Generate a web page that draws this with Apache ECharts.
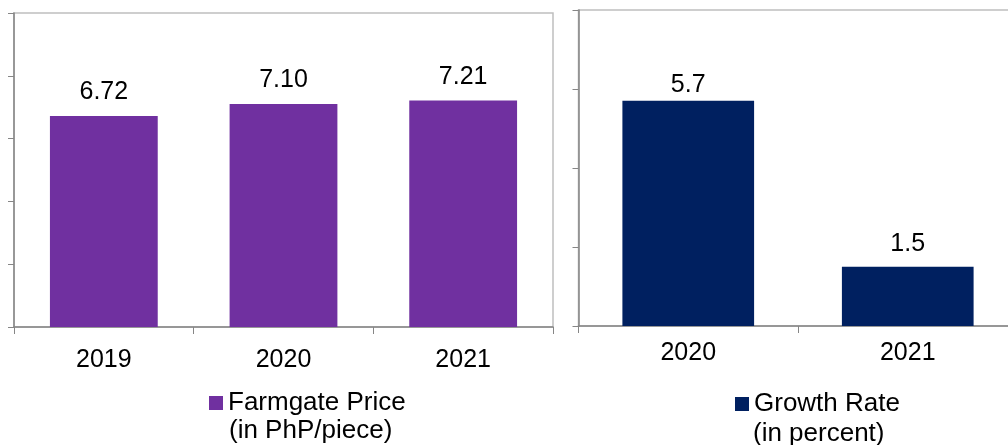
<!DOCTYPE html>
<html>
<head>
<meta charset="utf-8">
<script src="https://cdn.jsdelivr.net/npm/echarts@6/dist/echarts.min.js"></script>
<style>
html,body{margin:0;padding:0;background:#fff;overflow:hidden;width:1008px;height:445px;}
#c{width:1020px;height:445px;}
</style>
</head>
<body>
<div id="c"></div>
<script>
const priceYears = ['2019', '2020', '2021'];
const priceValues = [6.72, 7.10, 7.21];
const priceName = 'Farmgate Price';
const priceUnit = '(in PhP/piece)';

const growthYears = ['2020', '2021'];
const growthValues = [5.7, 1.5];
const growthName = 'Growth Rate';
const growthUnit = '(in percent)';

const FONT = '"Liberation Sans", Arial, sans-serif';
const AXIS = '#868686';
const BORDER = '#bfbfbf';

const chart = echarts.init(document.getElementById('c'), null, {renderer: 'canvas'});

function yAxis(gi, max) {
  return {
    type: 'value', gridIndex: gi, min: 0, max: max, interval: 2,
    axisLine: {show: true, lineStyle: {color: AXIS, width: 1.5}},
    axisTick: {show: true, length: 6, lineStyle: {color: AXIS, width: 1}},
    axisLabel: {show: false},
    splitLine: {show: false}
  };
}
function xAxis(gi, data, margin) {
  return {
    type: 'category', gridIndex: gi, data: data,
    axisLine: {show: true, lineStyle: {color: AXIS, width: 1.5}},
    axisTick: {show: true, length: 7, lineStyle: {color: AXIS, width: 1}},
    axisLabel: {color: '#000', fontSize: 25, fontFamily: FONT, margin: margin}
  };
}

chart.setOption({
  animation: false,
  grid: [
    {left: 14, top: 13, width: 539, height: 314, show: true, borderColor: BORDER, borderWidth: 1.5},
    {left: 578.5, top: 10, width: 439, height: 316, show: true, borderColor: BORDER, borderWidth: 1.5}
  ],
  xAxis: [xAxis(0, priceYears, 21), xAxis(1, growthYears, 15)],
  yAxis: [yAxis(0, 10), yAxis(1, 8)],
  legend: [
    {data: [priceName], left: 209, top: 390, padding: 0, itemWidth: 14, itemHeight: 14, itemGap: 0,
     icon: 'rect', textStyle: {fontSize: 26, fontFamily: FONT, color: '#000'}},
    {data: [growthName], left: 735, top: 391, padding: 0, itemWidth: 14, itemHeight: 14, itemGap: 0,
     icon: 'rect', textStyle: {fontSize: 26, fontFamily: FONT, color: '#000'}}
  ],
  graphic: [
    {type: 'text', left: 229, top: 418, style: {text: priceUnit, font: '26px ' + FONT, fill: '#000'}},
    {type: 'text', left: 753, top: 421, style: {text: growthUnit, font: '26px ' + FONT, fill: '#000'}}
  ],
  series: [
    {name: priceName, type: 'bar', xAxisIndex: 0, yAxisIndex: 0, data: priceValues,
     barCategoryGap: '40%', itemStyle: {color: '#7030A0'},
     label: {show: true, position: 'top', distance: 11, fontSize: 25, fontFamily: FONT, color: '#000',
             formatter: p => p.value.toFixed(2)}},
    {name: growthName, type: 'bar', xAxisIndex: 1, yAxisIndex: 1,
     data: growthValues.map((v, i) => ({value: v, label: {distance: i === 0 ? 3 : 10}})),
     barCategoryGap: '40%', itemStyle: {color: '#002060'},
     label: {show: true, position: 'top', fontSize: 25, fontFamily: FONT, color: '#000',
             formatter: p => p.value.toFixed(1)}}
  ]
});
</script>
</body>
</html>
